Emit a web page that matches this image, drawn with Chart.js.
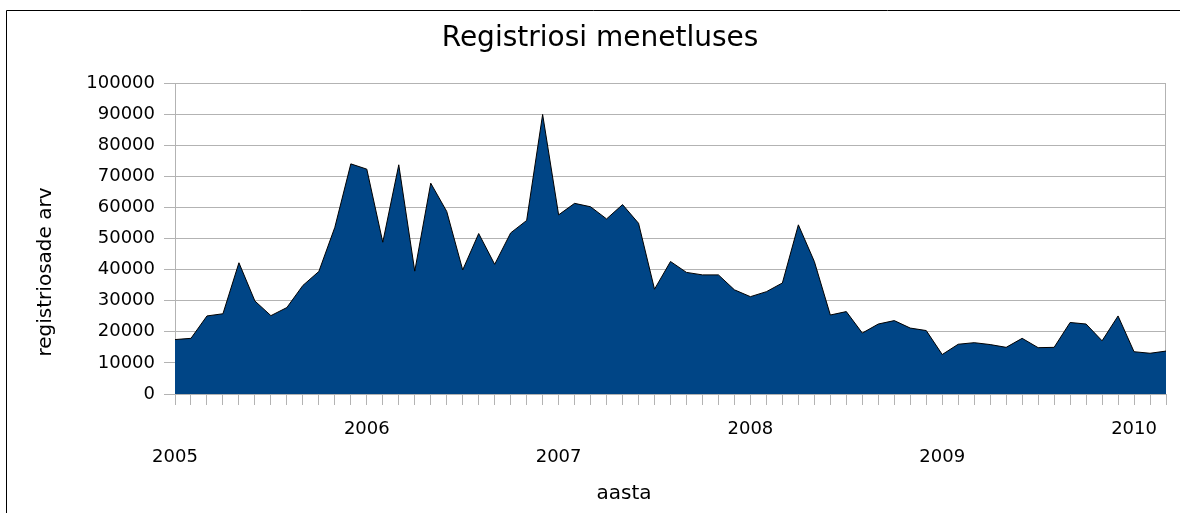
<!DOCTYPE html>
<html>
<head>
<meta charset="utf-8">
<title>Registriosi menetluses</title>
<script src="https://cdn.jsdelivr.net/npm/chart.js@4/dist/chart.umd.min.js"></script>
<style>
  html, body { margin: 0; padding: 0; background: #fff; overflow: hidden; }
  #regChart { display: block; }
</style>
</head>
<body>
<canvas id="regChart" width="1180" height="513"></canvas>
<script>
// kuud jaan 2005 .. märts 2010
var categories = [
    '2005-01','2005-02','2005-03','2005-04','2005-05','2005-06','2005-07','2005-08','2005-09','2005-10','2005-11','2005-12',
    '2006-01','2006-02','2006-03','2006-04','2006-05','2006-06','2006-07','2006-08','2006-09','2006-10','2006-11','2006-12',
    '2007-01','2007-02','2007-03','2007-04','2007-05','2007-06','2007-07','2007-08','2007-09','2007-10','2007-11','2007-12',
    '2008-01','2008-02','2008-03','2008-04','2008-05','2008-06','2008-07','2008-08','2008-09','2008-10','2008-11','2008-12',
    '2009-01','2009-02','2009-03','2009-04','2009-05','2009-06','2009-07','2009-08','2009-09','2009-10','2009-11','2009-12',
    '2010-01','2010-02','2010-03'
];

// registriosade arv kuus (loetud graafikult)
var registrations = [
    17500, 17900, 25100, 25800, 42200, 29900, 25200, 27800, 34900, 39400, 53600, 74000,
    72300, 48800, 73700, 39500, 67800, 58700, 39900, 51600, 41700, 51800, 55800, 89900,
    57600, 61300, 60200, 56300, 60900, 54900, 33700, 42600, 39100, 38300, 38300, 33500,
    31300, 32900, 35700, 54400, 42600, 25400, 26500, 19600, 22500, 23600, 21200, 20400,
    12700, 16000, 16500, 15900, 15000, 17900, 14900, 15000, 23000, 22500, 17100, 25100,
    13600, 13100, 13800
];

// aastate sildid, vahelduvalt ülemisel ja alumisel real
var yearLabels = ['2005', '2006', '2007', '2008', '2009', '2010'];

var xTitle = 'aasta';
var yTitle = 'registriosade arv';

var gridGray = '#b3b3b3';
var fontFamily = "'DejaVu Sans', sans-serif";

Chart.defaults.font.family = fontFamily;
Chart.defaults.color = '#000';

// välimine raam (vasak ja ülemine serv) ja hall raam joonisala ümber
var frames = {
    id: 'frames',
    beforeDraw: function(chart) {
        var ctx = chart.ctx;
        ctx.save();
        ctx.strokeStyle = '#000';
        ctx.lineWidth = 1;
        ctx.beginPath();
        ctx.moveTo(6.5, chart.height + 5);
        ctx.lineTo(6.5, 10.5);
        ctx.lineTo(chart.width + 5, 10.5);
        ctx.stroke();
        ctx.restore();
    },
    beforeDatasetsDraw: function(chart) {
        var a = chart.chartArea;
        var ctx = chart.ctx;
        ctx.save();
        ctx.strokeStyle = gridGray;
        ctx.lineWidth = 1;
        ctx.strokeRect(Math.round(a.left) + 0.5, Math.round(a.top) + 0.5,
            Math.round(a.right - a.left) - 1, Math.round(a.bottom - a.top));
        ctx.restore();
    }
};

// teljepealkirjad: originaalis pole need joonisala keskel
var axisTitles = {
    id: 'axisTitles',
    afterDraw: function(chart) {
        var ctx = chart.ctx;
        ctx.save();
        ctx.fillStyle = '#000';
        ctx.font = '20px ' + fontFamily;
        ctx.textAlign = 'center';
        ctx.textBaseline = 'middle';
        ctx.fillText(xTitle, 624, 494);
        ctx.translate(46, 272);
        ctx.rotate(-Math.PI / 2);
        ctx.fillText(yTitle, 0, 0);
        ctx.restore();
    }
};

var ctx = document.getElementById('regChart').getContext('2d');
new Chart(ctx, {
    type: 'line',
    data: {
        labels: categories,
        datasets: [{
            label: yTitle,
            data: registrations,
            fill: 'origin',
            backgroundColor: '#004586',
            borderColor: '#000',
            borderWidth: 1,
            pointRadius: 0,
            tension: 0
        }]
    },
    plugins: [frames, axisTitles],
    options: {
        responsive: false,
        animation: false,
        layout: { padding: { left: 34, top: 10, right: 14, bottom: 0 } },
        plugins: {
            legend: { display: false },
            tooltip: { enabled: false },
            title: {
                display: true,
                text: 'Registriosi menetluses',
                font: { size: 28, weight: 'normal' },
                color: '#000',
                padding: { top: 12, bottom: 27.4 }
            }
        },
        scales: {
            x: {
                offset: false,
                grid: { display: true, drawOnChartArea: false, drawTicks: true, tickLength: 11, color: gridGray },
                border: { display: false },
                ticks: {
                    autoSkip: false,
                    maxRotation: 0,
                    padding: 11,
                    font: { size: 18, lineHeight: 1.53 },
                    callback: function(value, index) {
                        var c = categories[index];
                        if (c.slice(5) !== '01') return '';
                        var k = yearLabels.indexOf(c.slice(0, 4));
                        return k % 2 === 1 ? [yearLabels[k]] : ['', yearLabels[k]];
                    }
                },
                afterFit: function(scale) { scale.height = 119; }
            },
            y: {
                min: 0,
                max: 100000,
                grid: { color: gridGray, tickLength: 11 },
                border: { display: true, color: gridGray },
                ticks: {
                    stepSize: 10000,
                    padding: 9,
                    font: { size: 18 },
                    callback: function(value) { return String(value); }
                },
                afterFit: function(scale) { scale.width = 141; }
            }
        }
    }
});
</script>
</body>
</html>
